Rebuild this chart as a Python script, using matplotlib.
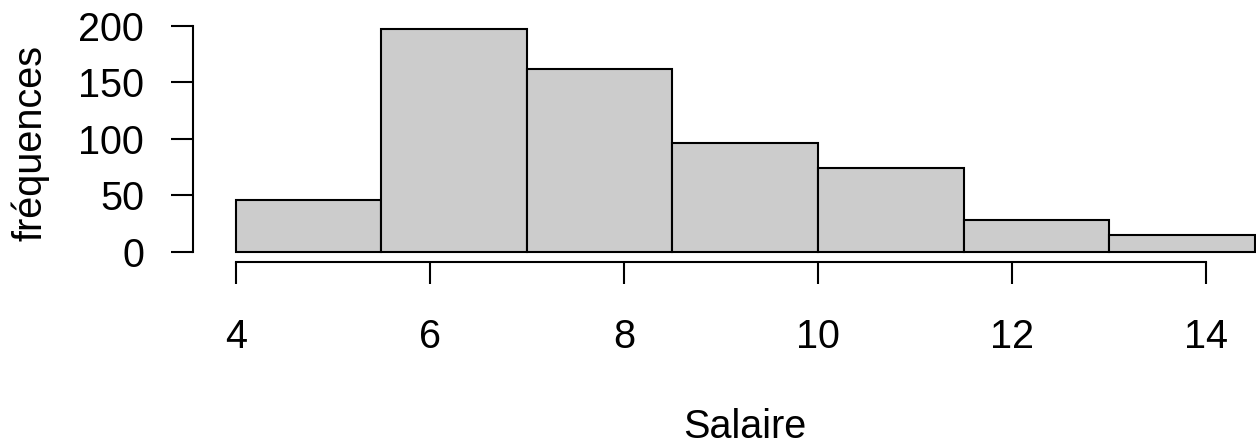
import matplotlib
matplotlib.use("Agg")
import matplotlib.pyplot as plt

breaks = [4.0, 5.5, 7.0, 8.5, 10.0, 11.5, 13.0, 14.5]
counts = [46, 197, 162, 96, 74, 28, 15]
xticks = [4, 6, 8, 10, 12, 14]
yticks = [0, 50, 100, 150, 200]
xlabel = "Salaire"
ylabel = "fréquences"

plt.rcParams['font.family'] = ['Liberation Sans', 'DejaVu Sans']

W, H = 1256, 447
fig = plt.figure(figsize=(W / 100, H / 100), dpi=100)

# pixel layout
ax_left_px, ax_right_px = 192.7, 1256.0
ax_top_px, ax_bottom_px = 20.0, 262.3
ax = fig.add_axes([ax_left_px / W, 1 - ax_bottom_px / H,
                   (ax_right_px - ax_left_px) / W, (ax_bottom_px - ax_top_px) / H])

ppx = 97.06
x0 = 4 - (235.7 - ax_left_px) / ppx
x1 = 4 + (ax_right_px - 235.7) / ppx
ppy = 1.13
y0 = -(ax_bottom_px - 251.7) / ppy
y1 = (251.7 - ax_top_px) / ppy
ax.set_xlim(x0, x1)
ax.set_ylim(y0, y1)

widths = [breaks[i + 1] - breaks[i] for i in range(len(counts))]
ax.bar(breaks[:-1], counts, width=widths, align='edge', color='#cccccc',
       edgecolor='black', linewidth=1.5, clip_on=False)

for s in ['top', 'right']:
    ax.spines[s].set_visible(False)
ax.spines['left'].set_bounds(0, 200)
ax.spines['bottom'].set_bounds(4, 14)
for s in ['left', 'bottom']:
    ax.spines[s].set_linewidth(1.5)

FS = 28.5
ax.set_xticks(xticks)
ax.set_xticklabels([str(v) for v in xticks])
ax.set_yticks(yticks)
ax.set_yticklabels([str(v) for v in yticks])
ax.tick_params(axis='both', length=16, width=1.5, labelsize=FS)
ax.tick_params(axis='x', pad=24)
ax.tick_params(axis='y', pad=19)

fig.text(745 / W, 1 - 427 / H, xlabel, ha='center', va='center', fontsize=FS)
fig.text(30 / W, 1 - 143 / H, ylabel, ha='center', va='center', rotation=90, fontsize=FS)

fig.savefig("out.png", dpi=100)
